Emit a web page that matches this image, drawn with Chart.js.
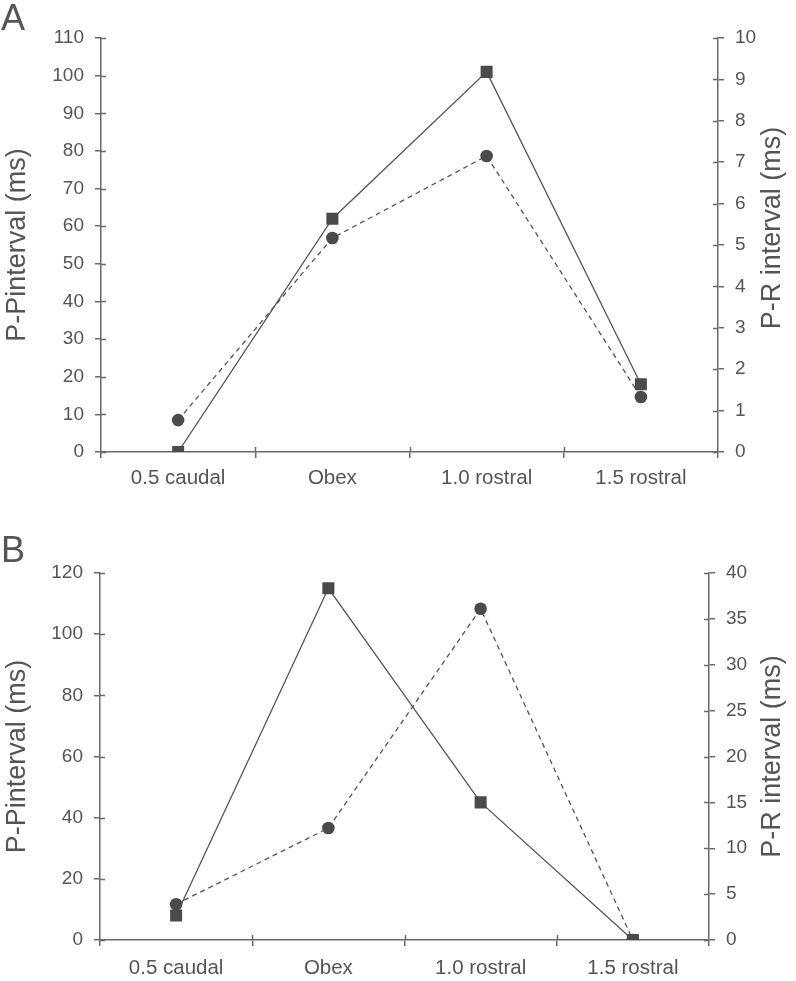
<!DOCTYPE html>
<html>
<head>
<meta charset="utf-8">
<script src="https://cdn.jsdelivr.net/npm/chart.js@4/dist/chart.umd.min.js"></script>
<style>
  html, body { margin: 0; padding: 0; background: #fff; }
  #wrap { position: relative; width: 796px; height: 981px; }
  canvas { position: absolute; left: 0; }
</style>
</head>
<body>
<div id="wrap">
  <canvas id="chartA" width="796" height="490" style="top:0"></canvas>
  <canvas id="chartB" width="796" height="491" style="top:490px"></canvas>
</div>
<script>
// ── Données ───────────────────────────────────────────────────────────────────
const CATEGORIES = ['0.5 caudal', 'Obex', '1.0 rostral', '1.5 rostral'];

// Panneau A
const A_PP = [0, 62, 101, 18];          // carrés, axe gauche
const A_PR = [0.77, 5.17, 7.15, 1.33];  // cercles, axe droit
const A_LEFT_TICKS  = { max: 110, step: 10 };
const A_RIGHT_TICKS = { max: 10,  step: 1 };

// Panneau B
const B_PP = [8, 115, 45, 0];
const B_PR = [3.9, 12.2, 36.1, 0];
const B_LEFT_TICKS  = { max: 120, step: 20 };
const B_RIGHT_TICKS = { max: 40,  step: 5 };

const LEFT_TITLE  = 'P-Pinterval (ms)';
const RIGHT_TITLE = 'P-R interval (ms)';

// ── Style ─────────────────────────────────────────────────────────────────────
const INK   = '#555555';
const AXIS  = '#6a6a6a';
const MARK  = '#4a4a4a';
const FONT  = "'Liberation Sans', Arial, sans-serif";

Chart.defaults.font.family = FONT;
Chart.defaults.color = INK;

// ── Plugin : petits traits vers l'intérieur + titre droit + lettre du panneau ─
const decor = {
    id: 'decor',
    afterDraw(chart, args, opts) {
        const ctx = chart.ctx;
        const len = 5;
        ctx.save();
        ctx.strokeStyle = AXIS;
        ctx.lineWidth = 1.5;
        ctx.beginPath();
        const yl = chart.scales.yL, yr = chart.scales.yR, x = chart.scales.x;
        yl.ticks.forEach((t, i) => {
            const py = Math.round(yl.getPixelForTick(i)) + 0.5;
            ctx.moveTo(yl.right, py); ctx.lineTo(yl.right + len, py);
        });
        yr.ticks.forEach((t, i) => {
            const py = Math.round(yr.getPixelForTick(i)) + 0.5;
            ctx.moveTo(yr.left - len, py); ctx.lineTo(yr.left, py);
        });
        for (let i = 1; i < CATEGORIES.length; i++) {
            const px = Math.round(x.getPixelForValue(i - 0.5)) + 0.5;
            ctx.moveTo(px, x.top); ctx.lineTo(px, x.top - len);
        }
        ctx.stroke();

        // titre de l'axe droit, lu de bas en haut
        ctx.fillStyle = INK;
        ctx.font = '27px ' + FONT;
        ctx.textAlign = 'center';
        ctx.textBaseline = 'middle';
        const cy = (chart.chartArea.top + chart.chartArea.bottom) / 2 + (opts.titleShift || 0);
        ctx.translate(opts.titleX, cy);
        ctx.rotate(-Math.PI / 2);
        ctx.fillText(RIGHT_TITLE, 0, 0);
        ctx.restore();

        // lettre du panneau
        ctx.save();
        ctx.fillStyle = INK;
        ctx.font = '36px ' + FONT;
        ctx.textBaseline = 'alphabetic';
        ctx.fillText(opts.letter, 1, opts.letterY);
        ctx.restore();
    }
};

function yAxis(position, t, width, title, pad) {
    return {
        type: 'linear',
        position,
        min: 0,
        max: t.max,
        afterFit: s => { s.width = width; },
        border: { display: true, color: AXIS, width: 1.5 },
        grid: { display: true, drawOnChartArea: false, drawTicks: true, tickLength: 6, color: AXIS, lineWidth: 1.5 },
        ticks: { stepSize: t.step, padding: pad, color: INK, font: { size: 19 } },
        title: title
            ? { display: true, text: title, color: INK, font: { size: 27 }, padding: { top: 1, bottom: 0 } }
            : { display: false },
    };
}

function makeChart(id, pp, pr, lt, rt, geo) {
    const ctx = document.getElementById(id).getContext('2d');
    return new Chart(ctx, {
        type: 'line',
        data: {
            labels: CATEGORIES,
            datasets: [
                {
                    label: 'P-P',
                    data: pp,
                    yAxisID: 'yL',
                    borderColor: INK,
                    borderWidth: 1.3,
                    pointStyle: 'rect',
                    pointRadius: 8.5,
                    pointBackgroundColor: MARK,
                    pointBorderColor: MARK,
                    pointBorderWidth: 0,
                    tension: 0,
                },
                {
                    label: 'P-R',
                    data: pr,
                    yAxisID: 'yR',
                    borderColor: INK,
                    borderWidth: 1.3,
                    borderDash: [5, 4],
                    pointStyle: 'circle',
                    pointRadius: 6.3,
                    pointBackgroundColor: MARK,
                    pointBorderColor: MARK,
                    pointBorderWidth: 0,
                    tension: 0,
                },
            ],
        },
        options: {
            responsive: false,
            animation: false,
            events: [],
            layout: { padding: { top: geo.top, left: 0, right: 0, bottom: 0 } },
            plugins: {
                legend: { display: false },
                tooltip: { enabled: false },
                decor: { letter: geo.letter, letterY: geo.letterY, titleX: geo.titleX, titleShift: geo.titleShift },
            },
            scales: {
                x: {
                    type: 'category',
                    offset: true,
                    afterFit: s => { s.height = geo.xHeight; },
                    border: { display: true, color: AXIS, width: 1.5 },
                    grid: { display: true, offset: true, drawOnChartArea: false, tickLength: 6, color: AXIS, lineWidth: 1.5 },
                    ticks: { padding: geo.xPad, color: INK, font: { size: 20.5 }, maxRotation: 0 },
                },
                yL: yAxis('left', lt, geo.leftW, LEFT_TITLE, 11),
                yR: yAxis('right', rt, geo.rightW, null, 11),
            },
        },
        plugins: [decor],
    });
}

makeChart('chartA', A_PP, A_PR, A_LEFT_TICKS, A_RIGHT_TICKS,
    { top: 38, xHeight: 38, leftW: 101, rightW: 78, xPad: 8, letter: 'A', letterY: 30, titleX: 773, titleShift: -17 });

makeChart('chartB', B_PP, B_PR, B_LEFT_TICKS, B_RIGHT_TICKS,
    { top: 83, xHeight: 41, leftW: 100, rightW: 87, xPad: 10, letter: 'B', letterY: 72, titleX: 773, titleShift: 0 });
</script>
</body>
</html>
